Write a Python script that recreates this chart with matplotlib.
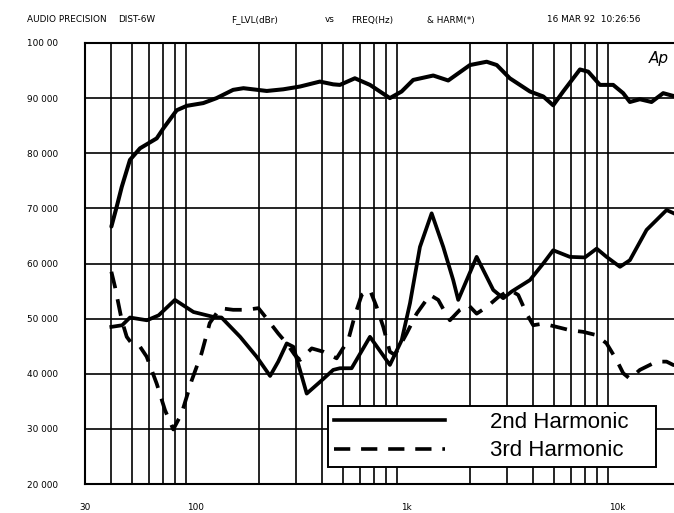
import matplotlib.pyplot as plt
from matplotlib.lines import Line2D

# F_LVL (fundamental level)
fund_freq = [40, 42.4, 44.8, 49, 54.7, 65.6, 70.5, 81.6, 91, 109, 126, 151, 169, 218, 261,
             313, 389, 450, 484, 570, 672, 835, 949, 1077, 1340, 1578, 2000, 2400, 2680, 3090,
             3850, 4450, 4960, 5530, 6640, 7270, 8260, 9540, 10640, 11450, 12770, 14500, 16470, 18360, 20000]
fund_lvl = [66.7, 70.3, 73.9, 78.8, 80.9, 82.7, 84.5, 87.8, 88.6, 89.1, 90.0, 91.5, 91.8, 91.3, 91.6,
            92.1, 93.0, 92.5, 92.4, 93.6, 92.4, 90.0, 91.2, 93.3, 94.1, 93.2, 96.0, 96.6, 96.0, 93.6,
            91.2, 90.3, 88.7, 91.2, 95.2, 94.8, 92.4, 92.4, 90.9, 89.3, 89.8, 89.3, 90.9, 90.4, 90.4]

# 2nd harmonic
h2_freq = [40, 45, 49, 59, 67, 80, 98, 122, 133, 163, 195, 226, 247, 271, 291,
           313, 337, 389, 450, 484, 550, 672, 835, 950, 1040, 1159, 1317, 1495, 1666, 1760,
           2152, 2579, 2875, 3150, 3850, 4450, 4960, 5950, 7010, 7970, 8880, 10280, 11450, 13740, 17090,
           18500, 20000]
h2_val = [48.5, 48.8, 50.2, 49.7, 50.6, 53.4, 51.2, 50.3, 50.2, 46.7, 43.1, 39.6, 42.2, 45.5, 44.9,
          40.7, 36.4, 38.5, 40.7, 41.0, 41.0, 46.7, 41.6, 46.1, 52.8, 63.0, 69.1, 63.0, 57.0, 53.4,
          61.2, 55.2, 53.7, 54.9, 57.0, 60.0, 62.4, 61.2, 61.1, 62.7, 61.2, 59.4, 60.6, 66.1, 69.7,
          69.1, 68.5]

# 3rd harmonic
h3_freq = [40, 41.6, 44.8, 47.3, 49.9, 54.7, 58.8, 65.6, 71.8, 78.6, 86.1, 96.1, 107, 117, 131,
           151, 175, 199, 218, 247, 271, 296, 313, 356, 404, 434, 467, 530, 570, 614,
           672, 723, 777, 835, 882, 1002, 1118, 1293, 1415, 1522, 1607, 1793, 1962, 2152, 2400,
           2722, 3092, 3386, 3711, 3987, 4449, 5148, 5952, 6882, 7965, 8880, 9903, 10644, 11449, 12771,
           15324, 17088, 18363, 20000]
h3_val = [58.5, 55.8, 49.7, 46.7, 45.5, 44.9, 43.1, 38.2, 33.4, 29.9, 32.8, 38.8, 43.7, 49.2, 51.9,
          51.6, 51.6, 51.9, 50.0, 47.3, 45.5, 43.4, 42.5, 44.6, 44.0, 43.4, 42.8, 46.1, 50.6, 54.3,
          55.2, 52.1, 48.5, 44.0, 43.4, 47.3, 50.9, 54.3, 53.4, 51.2, 49.7, 51.6, 52.5, 50.9, 52.1,
          53.9, 55.2, 54.3, 50.9, 48.8, 49.1, 48.5, 47.9, 47.6, 47.0, 45.5, 42.5, 40.1, 39.1, 40.7,
          42.2, 42.2, 41.6, 41.4]

y_ticks = [20, 30, 40, 50, 60, 70, 80, 90, 100]
y_labels = ['20 000', '30 000', '40 000', '50 000', '60 000', '70 000', '80 000', '90 000', '100 00']
x_ticks = [30, 100, 1000, 10000, 20000]
x_labels = ['30', '100', '1k', '10k', '20k']
grid_freqs = [40, 50, 60, 70, 80, 90, 100, 200, 300, 400, 500, 600, 700, 800, 900,
              1000, 2000, 3000, 4000, 5000, 6000, 7000, 8000, 9000, 10000]

W, H = 674, 513
small = dict(fontsize = 6.4, family = 'DejaVu Sans', color = 'black')

fig = plt.figure(figsize = (W / 100, H / 100), dpi = 100)
ax = fig.add_axes([85 / W, 1 - 484 / H, (681 - 85) / W, (484 - 43) / H])

ax.plot(fund_freq, fund_lvl, color = 'black', lw = 2.9, solid_joinstyle = 'round', solid_capstyle = 'round')
ax.plot(h2_freq, h2_val, color = 'black', lw = 2.7, solid_joinstyle = 'round')
ax.plot(h3_freq, h3_val, color = 'black', lw = 2.7, linestyle = (0, (4.5, 3)))

ax.set_xscale('log')
ax.set_xlim(30, 20000)
ax.set_ylim(20, 100)

ax.set_yticks(y_ticks)
ax.set_yticklabels(y_labels, ha = 'left', **small)
ax.set_xticks(x_ticks)
ax.set_xticklabels(x_labels, **small)
ax.set_xticks(grid_freqs, minor = True)
ax.xaxis.set_minor_formatter(plt.NullFormatter())
ax.tick_params(axis = 'y', length = 0, pad = 42)
ax.tick_params(axis = 'x', which = 'both', length = 0, pad = 14)

ax.grid(which = 'minor', axis = 'x', color = 'black', lw = 1.2)
ax.grid(which = 'major', axis = 'y', color = 'black', lw = 1.2)
for s in ax.spines.values():
    s.set_linewidth(1.5)

handles = [Line2D([], [], color = 'black', lw = 2.6),
           Line2D([], [], color = 'black', lw = 2.6, linestyle = (0, (4.5, 3)))]
x0 = (328 - 85) / 596
leg = ax.legend(handles, ['2nd Harmonic', '3rd Harmonic'],
    loc = 'lower left', bbox_to_anchor = (x0, (484 - 467) / 441, (656 - 328) / 596, 0.1),
    mode = 'expand', borderaxespad = 0, prop = {'family': 'Liberation Sans', 'size': 16},
    handlelength = 5.0, handletextpad = 2.05, labelspacing = 0.35, borderpad = 0.25,
    fancybox = False, framealpha = 1, edgecolor = 'black')
leg.get_frame().set_linewidth(1.4)
leg.set_zorder(5)

# header line
def header(x, text):
    fig.text(x / W, 1 - 20 / H, text, va = 'center', ha = 'left', **small)

header(27, 'AUDIO PRECISION')
header(118, 'DIST-6W')
header(231, 'F_LVL(dBr)')
header(325, 'vs')
header(351, 'FREQ(Hz)')
header(427, '& HARM(*)')
header(547, '16 MAR 92  10:26:56')

fig.text(649 / W, 1 - 58 / H, 'Ap', fontsize = 11, style = 'italic', family = 'DejaVu Sans', va = 'center')

fig.savefig('out.png', dpi = 100)
